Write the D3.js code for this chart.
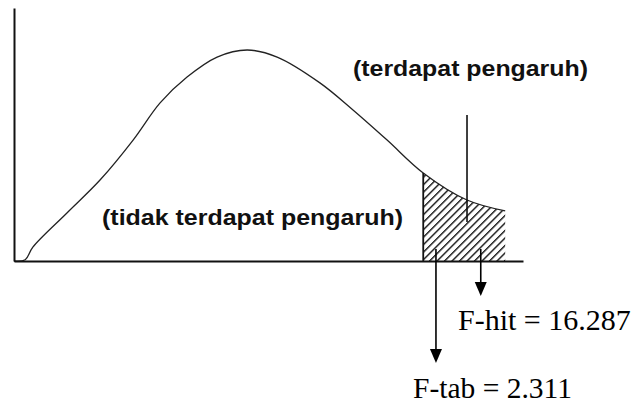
<!DOCTYPE html>
<html>
<head>
<meta charset="utf-8">
<script src="https://cdn.jsdelivr.net/npm/d3@7/dist/d3.min.js"></script>
<style>
  html, body { margin: 0; padding: 0; background: #fff; }
  svg { display: block; }
</style>
</head>
<body>
<svg id="chart" width="636" height="406"></svg>
<script>
// ---- data ----
const xValues   = [0, 2.2, 3.7, 10.4, 16.9, 23.4, 28.7, 34.0, 39.9, 45.8, 51.7, 60.1, 66.6, 73.3, 80.4, 89.0, 96.5];
const densities = [0, 0.5, 5.5, 19.0, 32.0, 47.8, 62.5, 72.7, 80.6, 83.4, 80.6, 70.4, 59.7, 47.8, 34.8, 24.1, 19.8];
const shadeStartIndex = 14;           // critical value location on the curve (F-tab)
const fTabPos = 82.9;                 // arrow position for F-tab
const fHitPos = 91.7;                 // arrow position for F-hit
const regionPointerPos = 89.0;        // pointer line from "(terdapat pengaruh)"
const labels = {
  reject: "(terdapat pengaruh)",
  accept: "(tidak terdapat pengaruh)",
  fHit: "F-hit = 16.287",
  fTab: "F-tab = 2.311"
};

const svg = d3.select("#chart");
const x = d3.scaleLinear().domain([0, 100]).range([14, 523]);
const y = d3.scaleLinear().domain([0, 100]).range([261, 8]);

const pts = xValues.map((v, i) => ({ x: v, y: densities[i] }));

// hatch pattern
const defs = svg.append("defs");
const pat = defs.append("pattern")
  .attr("id", "hatch")
  .attr("patternUnits", "userSpaceOnUse")
  .attr("width", 5.3).attr("height", 5.3)
  .attr("patternTransform", "rotate(45)");
pat.append("line")
  .attr("x1", 0.7).attr("y1", 0).attr("x2", 0.7).attr("y2", 5.3)
  .attr("stroke", "#000").attr("stroke-width", 1.3);

// shaded tail
const tail = pts.slice(shadeStartIndex);
const area = d3.area()
  .x(d => x(d.x)).y0(y(0)).y1(d => y(d.y))
  .curve(d3.curveCatmullRom);
svg.append("path")
  .datum(tail)
  .attr("d", area)
  .attr("fill", "url(#hatch)");

// curve
const line = d3.line().x(d => x(d.x)).y(d => y(d.y)).curve(d3.curveCatmullRom);
svg.append("path")
  .datum(pts)
  .attr("d", line)
  .attr("fill", "none")
  .attr("stroke", "#222")
  .attr("stroke-width", 1.3);

// axes
const axL = svg.append("g").attr("transform", `translate(${x(0)},0)`)
  .call(d3.axisLeft(y).ticks(0).tickSizeOuter(0));
const axB = svg.append("g").attr("transform", `translate(0,${y(0)})`)
  .call(d3.axisBottom(x).ticks(0).tickSizeOuter(0));
[axL, axB].forEach(g => g.select(".domain").attr("stroke", "#111").attr("stroke-width", 2));

// boundary of rejection region
const s0 = pts[shadeStartIndex];
svg.append("line")
  .attr("x1", x(s0.x)).attr("x2", x(s0.x))
  .attr("y1", y(s0.y)).attr("y2", y(0))
  .attr("stroke", "#111").attr("stroke-width", 1.8);

// pointer from region label
svg.append("line")
  .attr("x1", x(regionPointerPos)).attr("x2", x(regionPointerPos))
  .attr("y1", 115).attr("y2", 222)
  .attr("stroke", "#111").attr("stroke-width", 1.6);

// arrows
function arrow(pos, y1, tip) {
  const cx = x(pos);
  svg.append("line")
    .attr("x1", cx).attr("x2", cx).attr("y1", y1).attr("y2", tip - 12)
    .attr("stroke", "#000").attr("stroke-width", 1.6);
  svg.append("path")
    .attr("d", `M${cx - 6},${tip - 14}L${cx + 6},${tip - 14}L${cx},${tip}Z`)
    .attr("fill", "#000");
}
arrow(fTabPos, 249, 363);
arrow(fHitPos, 249, 296);

// labels
svg.append("text")
  .attr("x", 102).attr("y", 225)
  .attr("textLength", 301).attr("lengthAdjust", "spacingAndGlyphs")
  .attr("font-family", "Liberation Sans, Arial, sans-serif")
  .attr("font-weight", "bold").attr("font-size", 22)
  .attr("fill", "#111")
  .text(labels.accept);
svg.append("text")
  .attr("x", 353).attr("y", 76)
  .attr("textLength", 235).attr("lengthAdjust", "spacingAndGlyphs")
  .attr("font-family", "Liberation Sans, Arial, sans-serif")
  .attr("font-weight", "bold").attr("font-size", 22)
  .attr("fill", "#111")
  .text(labels.reject);
svg.append("text")
  .attr("x", 458).attr("y", 330)
  .attr("font-family", "Liberation Serif, Times New Roman, serif")
  .attr("font-size", 30).attr("fill", "#000")
  .text(labels.fHit);
svg.append("text")
  .attr("x", 413).attr("y", 398)
  .attr("font-family", "Liberation Serif, Times New Roman, serif")
  .attr("font-size", 29.5).attr("fill", "#000")
  .text(labels.fTab);
</script>
</body>
</html>
